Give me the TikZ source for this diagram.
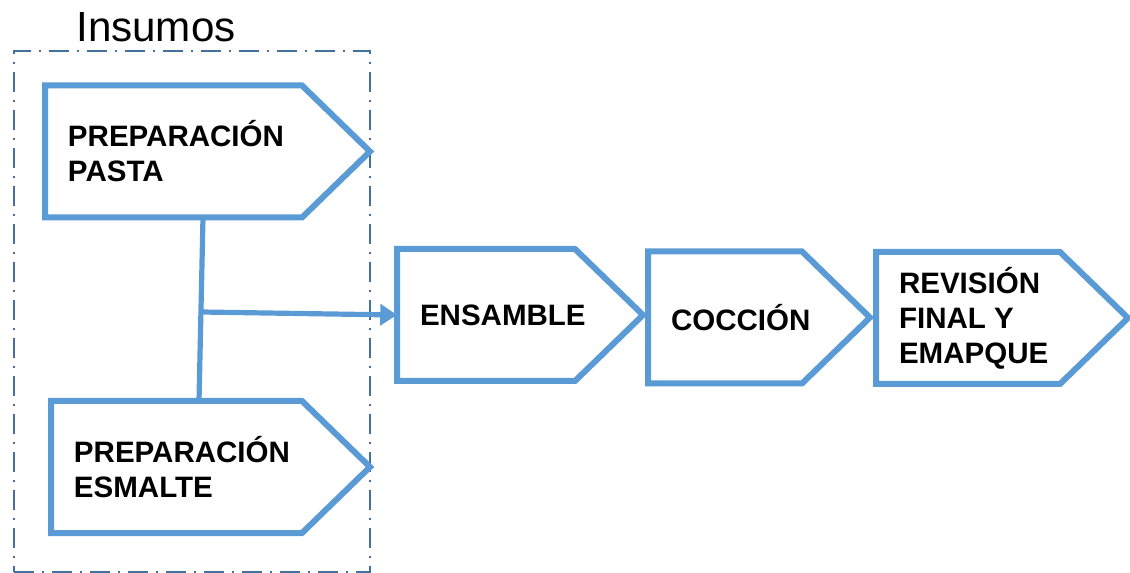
\documentclass[tikz,border=0pt]{standalone}
\usepackage{fontspec}
\setmainfont{Liberation Sans}
\usepackage{tikz}
\usetikzlibrary{arrows.meta}
\definecolor{azulpaso}{RGB}{91,155,213}
\definecolor{azulmarco}{RGB}{65,113,156}
\tikzset{
  paso/.style={anchor=west, minimum height=3.3cm, inner xsep=0.575cm, inner ysep=0pt, outer sep=0pt, align=left, font=\fontsize{21}{24.9}\selectfont\bfseries},
  borde/.style={draw=azulpaso, line width=0.15cm, line join=miter},
  marco/.style={draw=azulmarco, line width=0.05cm, dash pattern=on 0.5cm off 0.2cm on 0.05cm off 0.2cm, minimum width=8.9cm, minimum height=13.025cm, inner sep=0pt},
  titulo/.style={anchor=base west, inner sep=0pt, font=\fontsize{30}{36}\selectfont},
  enlace/.style={draw=azulpaso, line width=0.13cm},
  flujo/.style={enlace, -{Triangle[length=0.42cm,width=0.52cm]}},
}

\begin{document}
\begin{tikzpicture}
\useasboundingbox (0,0) rectangle (28.25,-14.325);
\node[marco] (insumos) at (4.8,-7.7875) {};
\node[titulo] (lblinsumos) at (1.9,-1.05) {Insumos};
\node[paso] (pasta)    at (1.125,-3.7875) {PREPARACIÓN\\PASTA};
\node[paso] (esmalte)  at (1.275,-11.675) {PREPARACIÓN\\ESMALTE};
\node[paso] (ensamble) at (9.925,-7.875) {ENSAMBLE};
\node[paso] (coccion)  at (16.2,-7.9375) {COCCIÓN};
\node[paso] (revision) at (21.9,-7.95) {REVISIÓN\\FINAL Y\\EMAPQUE};
% contorno de flecha de cada paso
\foreach \n/\w in {pasta/6.425, esmalte/6.275, ensamble/4.45, coccion/3.85, revision/4.6}
  \draw[borde] (\n.north west) -- ++(\w,0) -- ++(1.7,-1.65) -- ++(-1.7,-1.65) -- (\n.south west) -- cycle;
\coordinate (union) at (5.025,-7.8);
\draw[enlace] ([xshift=3.95cm]pasta.south west) -- ([xshift=3.7cm]esmalte.north west);
\draw[flujo] (union) -- (ensamble.west);
\end{tikzpicture}
\end{document}
